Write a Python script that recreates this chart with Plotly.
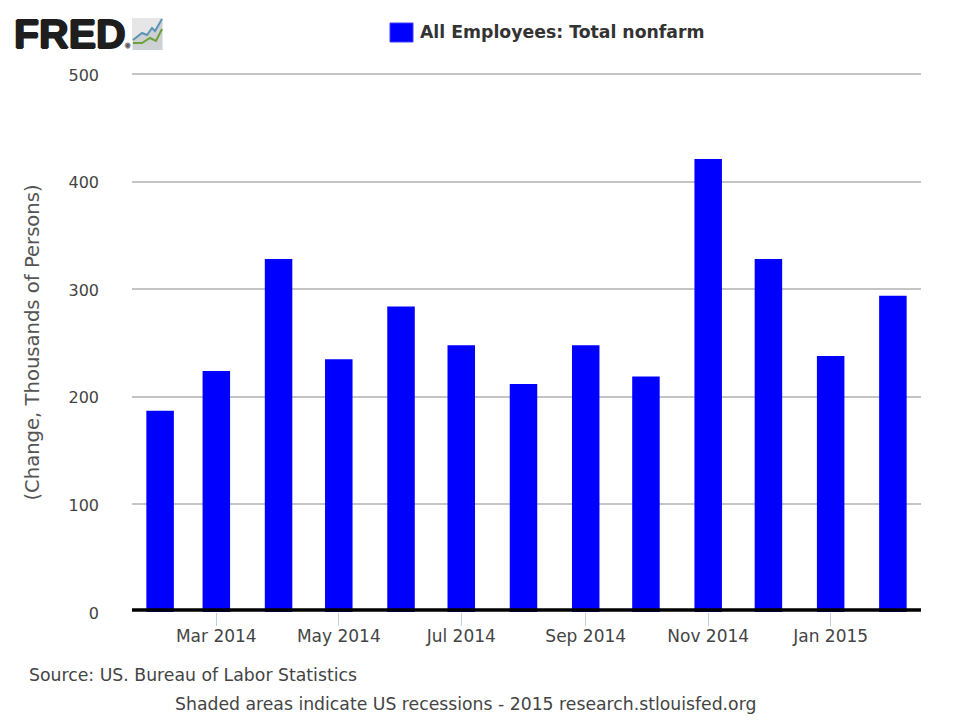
import plotly.graph_objects as go

months = ["2014-02-01", "2014-03-01", "2014-04-01", "2014-05-01", "2014-06-01", "2014-07-01", "2014-08-01",
          "2014-09-01", "2014-10-01", "2014-11-01", "2014-12-01", "2015-01-01", "2015-02-01"]
change = [187, 224, 328, 235, 284, 248, 212, 248, 219, 421, 328, 238, 294]
y_ticks = [0, 100, 200, 300, 400, 500]

series_name = "All Employees: Total nonfarm"
y_title = "(Change, Thousands of Persons)"
source_note = "Source: US. Bureau of Labor Statistics"
recession_note = "Shaded areas indicate US recessions - 2015 research.stlouisfed.org"

DAY_MS = 86400000
W, H = 960, 720
PLOT_L, PLOT_R, PLOT_T, PLOT_B = 132, 921, 73, 612
FONT = "DejaVu Sans"
TEXT = "#444444"


def px(x):
    # pixel column of the page -> paper x
    return (x - PLOT_L) / (PLOT_R - PLOT_L)


def py(y):
    # pixel row of the page -> paper y
    return (PLOT_B - y) / (PLOT_B - PLOT_T)


fig = go.Figure()
fig.add_trace(go.Bar(
    x=months, y=change, name=series_name, width=13.7 * DAY_MS,
    marker=dict(color="#0000ff", line=dict(width=0)),
))

fig.update_layout(
    width=W, height=H, autosize=False,
    margin=dict(l=PLOT_L, r=W - PLOT_R, t=PLOT_T, b=H - PLOT_B),
    plot_bgcolor="white", paper_bgcolor="white",
    font=dict(family=FONT, size=16, color=TEXT),
    showlegend=True,
    legend=dict(
        x=px(380), y=py(32), xanchor="left", yanchor="middle",
        orientation="h", font=dict(size=17.3, weight=700, color="#333333"),
        itemwidth=30, bgcolor="rgba(0,0,0,0)",
    ),
)
fig.update_xaxes(
    type="date", range=["2014-01-18", "2015-02-15"],
    tick0="2014-03-01", dtick="M2", tickformat="%b %Y",
    ticks="outside", ticklen=13, tickwidth=1, tickcolor="#c0d0e0",
    showgrid=False, showline=False, zeroline=False,
    ticklabelstandoff=-4, tickfont=dict(size=17),
)
fig.update_yaxes(
    range=[0, 501], tickvals=y_ticks, showline=False,
    gridcolor="#c4c4c4", gridwidth=1.5, zeroline=False,
    ticks="", ticklabelstandoff=32, ticklabelshift=1,
    title=dict(text=y_title, standoff=23, font=dict(size=19.6, color="#555555")),
)

# heavy baseline sits a little above the 0 grid position in the original
fig.add_shape(type="line", xref="paper", yref="paper", x0=0, x1=1, y0=py(610), y1=py(610),
              line=dict(color="#000000", width=3.5))

# footer notes
fig.add_annotation(text=source_note, xref="paper", yref="paper", x=px(27), y=py(675),
                   xanchor="left", yanchor="middle", showarrow=False, font=dict(size=17.3, color=TEXT))
fig.add_annotation(text=recession_note, xref="paper", yref="paper", x=px(173), y=py(704),
                   xanchor="left", yanchor="middle", showarrow=False, font=dict(size=17.25, color=TEXT))

# legend swatch is larger than plotly's own
fig.add_shape(type="rect", xref="paper", yref="paper", x0=px(390), x1=px(413), y0=py(42), y1=py(23),
              fillcolor="#0000ff", line=dict(color="#3f3fff", width=1))

# FRED logo
fig.add_shape(type="rect", xref="paper", yref="paper", x0=px(132), x1=px(163), y0=py(50), y1=py(18),
              fillcolor="#e6e6e6", line=dict(width=0))


def icon_path(points, close=False):
    coords = [f"{px(x):.5f},{py(y):.5f}" for x, y in points]
    return "M" + " L".join(coords) + (" Z" if close else "")


blue_line = [(133, 40), (142, 33), (147, 35), (152, 28), (155, 31), (162, 19)]
green_line = [(133, 43), (142, 43), (150, 38), (156, 41), (162, 29)]
fig.add_shape(type="path", xref="paper", yref="paper", fillcolor="#cdd1d3", line=dict(width=0),
              path=icon_path(blue_line + [(162, 50), (133, 50)], close=True))
fig.add_shape(type="path", xref="paper", yref="paper", line=dict(color="#5b93b5", width=2),
              path=icon_path(blue_line))
fig.add_shape(type="path", xref="paper", yref="paper", line=dict(color="#6ea03c", width=2),
              path=icon_path(green_line))
fig.add_annotation(text="<b>FRED</b><span style='font-size:6px;color:#777777'>®</span>",
                   xref="paper", yref="paper", x=px(12), y=py(34),
                   xanchor="left", yanchor="middle", showarrow=False,
                   font=dict(family="Liberation Sans", size=41, color="#1e1e1e",
                             shadow="1px 0 #1e1e1e, -1px 0 #1e1e1e, 0 1px #1e1e1e, 0 -1px #1e1e1e"))

# the page's default 8px body margin would shift the whole chart
fig.write_html("out.html", config=dict(displayModeBar=False), post_script="document.body.style.margin = '0';")
